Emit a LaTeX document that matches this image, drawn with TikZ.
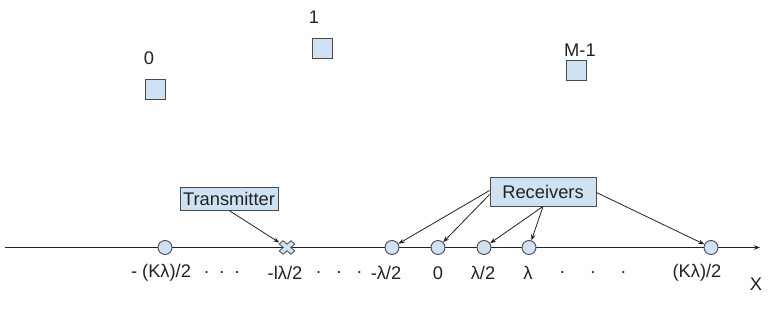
\documentclass[tikz,border=0pt]{standalone}
\usepackage{fontspec}
\setmainfont{Liberation Sans}
\usetikzlibrary{arrows.meta}
\definecolor{boxfill}{HTML}{CFE2F3}
\definecolor{boxline}{HTML}{4A4A4A}
\definecolor{ink}{HTML}{222222}
\tikzset{
  lbl/.style={font=\fontsize{18.3}{21}\selectfont, text=ink, inner sep=0pt, anchor=center},
  sq/.style={draw=boxline, fill=boxfill, line width=0.9pt, minimum size=20pt, inner sep=0pt},
  rx/.style={circle, draw=boxline, fill=boxfill, line width=0.9pt, minimum size=14pt, inner sep=0pt},
  tag/.style={draw=boxline, fill=boxfill, line width=0.9pt, font=\fontsize{18.3}{21}\selectfont, text=ink, inner xsep=3pt, inner ysep=0pt},
  conn/.style={draw=ink, line width=0.8pt, -{Stealth[length=6pt,width=4.5pt]}},
}
\begin{document}
\begin{tikzpicture}[x=1pt,y=-1pt]
\useasboundingbox (0,0) rectangle (779,324);
% antennas
\node[sq] (s0) at (155.5,89.5) {};
\node[sq] (s1) at (322,48) {};
\node[sq] (sM) at (576.5,70.5) {};
\node[lbl] (l0) at (149,58) {0};
\node[lbl] (l1) at (314,17) {1};
\node[lbl] (lM) at (580,50) {M-1};
% axis
\coordinate (axl) at (5,247.5);
\coordinate (axr) at (760,247.5);
\draw[conn] (axl) -- (axr);
% receivers on axis
\node[rx] (c0) at (165,247.5) {};
\node[rx] (c1) at (392,247.5) {};
\node[rx] (c2) at (438,247.5) {};
\node[rx] (c3) at (484,247.5) {};
\node[rx] (c4) at (529,247.5) {};
\node[rx] (c5) at (711,247.5) {};
% transmitter cross
\begin{scope}[shift={(287,247.5)}, yscale=0.87, rotate=45]
\filldraw[fill=boxfill, draw=boxline, line width=0.8pt]
  (8.3,2.7) -- (2.7,2.7) -- (2.7,8.3) -- (-2.7,8.3) -- (-2.7,2.7) -- (-8.3,2.7) --
  (-8.3,-2.7) -- (-2.7,-2.7) -- (-2.7,-8.3) -- (2.7,-8.3) -- (2.7,-2.7) -- (8.3,-2.7) -- cycle;
\end{scope}
\node[circle, minimum size=18pt, inner sep=0pt] (tx) at (287,247.5) {};
% boxes
\node[tag, minimum width=98pt, minimum height=23pt] (tb) at (229,198.5) {Transmitter};
\node[tag, minimum width=106pt, minimum height=29pt] (rb) at (543,191.5) {Receivers};
% connectors
\draw[conn] (tb.south) -- (tx);
\draw[conn] ([yshift=1pt]rb.west) -- (c1);
\draw[conn] ([yshift=-3pt]rb.west) -- (c2);
\draw[conn] (rb.south) -- (c3);
\draw[conn] (rb.south) -- (c4);
\draw[conn] ([yshift=-1pt]rb.east) -- (c5);
% axis labels
\node[lbl] (t0) at (161,273) {- (Kλ)/2};
\node[lbl] (d1) at (222,273) {.\ \ .\ \ .};
\node[lbl] (t1) at (285,273) {-lλ/2};
\node[lbl] (d2) at (339,273) {.\ \ \ .\ \ \ .};
\node[lbl] (t2) at (386,273) {-λ/2};
\node[lbl] (t3) at (438,273) {0};
\node[lbl] (t4) at (483,273) {λ/2};
\node[lbl] (t5) at (528,273) {λ};
\node[lbl] (d3) at (593,273) {.\ \ \ \ \ .\ \ \ \ \ .};
\node[lbl] (t6) at (697,273) {(Kλ)/2};
\node[lbl] (tX) at (756,284) {X};
\end{tikzpicture}
\end{document}
